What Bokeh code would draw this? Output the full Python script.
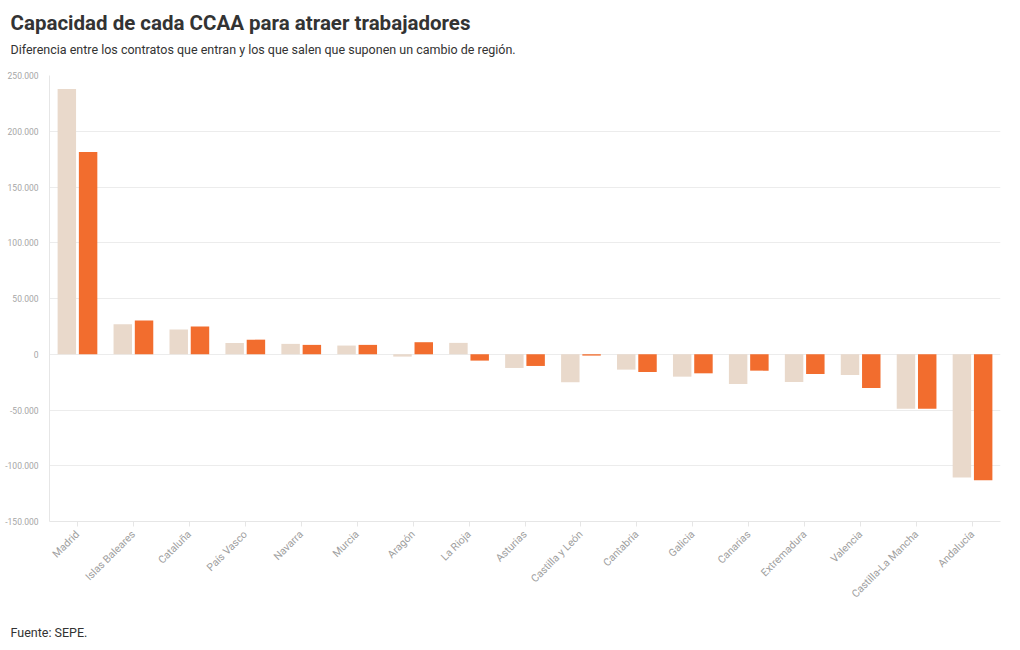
from bokeh.plotting import figure
from bokeh.models import ColumnDataSource, FactorRange, Range1d, FixedTicker, Title
from bokeh.transform import dodge
from bokeh.embed import file_html
from bokeh.resources import INLINE
import math

regions = ["Madrid", "Islas Baleares", "Cataluña", "País Vasco", "Navarra", "Murcia",
           "Aragón", "La Rioja", "Asturias", "Castilla y León", "Cantabria", "Galicia",
           "Canarias", "Extremadura", "Valencia", "Castilla-La Mancha", "Andalucía"]
serie_anterior = [238000, 26900, 22200, 10200, 9300, 7800, -2100, 10200, -12300, -25100,
                  -13800, -20100, -26700, -24900, -18600, -48900, -110600]
serie_actual = [181400, 30300, 24900, 13100, 8400, 8400, 10800, -5700, -10500, -1200,
                -15900, -17100, -14700, -17700, -30300, -48900, -113000]
y_ticks = [-150000, -100000, -50000, 0, 50000, 100000, 150000, 200000, 250000]
y_tick_labels = ["-150.000", "-100.000", "-50.000", "0", "50.000", "100.000",
                 "150.000", "200.000", "250.000"]

title_text = "Capacidad de cada CCAA para atraer trabajadores"
subtitle_text = "Diferencia entre los contratos que entran y los que salen que suponen un cambio de región."
source_text = "Fuente: SEPE."

src = ColumnDataSource(dict(region=regions, a=serie_anterior, b=serie_actual))

FONT = "Roboto"
LEFT = 49

p = figure(width=1020, height=650, x_range=FactorRange(*regions, range_padding=0),
           y_range=Range1d(-150000, 250000), output_backend="svg", toolbar_location=None,
           min_border_left=LEFT, min_border_right=20, min_border_top=75, min_border_bottom=129)
p.outline_line_color = None
p.background_fill_color = "white"
p.title.text = ""

p.vbar(x=dodge("region", -0.19, range=p.x_range), top="a", bottom=0, width=0.33,
       source=src, fill_color="#e9d9cb", line_color=None)
p.vbar(x=dodge("region", 0.19, range=p.x_range), top="b", bottom=0, width=0.33,
       source=src, fill_color="#f26d2e", line_color=None)

# axes
p.xgrid.grid_line_color = None
p.ygrid.grid_line_color = "#ececec"
p.ygrid.ticker = FixedTicker(ticks=y_ticks)
p.yaxis.ticker = FixedTicker(ticks=y_ticks)
p.yaxis.major_label_overrides = {t: l for t, l in zip(y_ticks, y_tick_labels)}
p.yaxis.axis_line_color = "#e6e6e6"
p.yaxis.major_tick_line_color = None
p.yaxis.minor_tick_line_color = None
p.yaxis.major_label_text_font = FONT
p.yaxis.major_label_text_font_size = "8.5px"
p.yaxis.major_label_text_color = "#a6a6a6"
p.yaxis.major_label_standoff = 5

p.xaxis.axis_line_color = "#e6e6e6"
p.xaxis.major_tick_line_color = "#e6e6e6"
p.xaxis.major_tick_out = 5
p.xaxis.major_tick_in = 0
p.xaxis.major_label_orientation = math.pi / 4
p.xaxis.major_label_text_font = FONT
p.xaxis.major_label_text_font_size = "10.5px"
p.xaxis.major_label_text_color = "#a0a0a0"
p.xaxis.major_label_standoff = 6

# header: spacer closest to frame, then subtitle, then main title
p.add_layout(Title(text=" ", text_font_size="12.5px", standoff=3), "above")
p.add_layout(Title(text=subtitle_text, align="left", offset=10 - LEFT, standoff=0,
                   text_font=FONT, text_font_size="12.5px", text_font_style="normal",
                   text_color="#333333"), "above")
p.add_layout(Title(text=title_text, align="left", offset=10 - LEFT, standoff=9,
                   text_font=FONT, text_font_size="20.5px", text_font_style="bold",
                   text_color="#333333"), "above")

# footer: spacer then source line
p.add_layout(Title(text=" ", text_font_size="12px", standoff=1), "below")
p.add_layout(Title(text=source_text, align="left", offset=10 - LEFT, standoff=0,
                   text_font=FONT, text_font_size="12.5px", text_font_style="normal",
                   text_color="#333333", vertical_align="top"), "below")

open("out.html", "w").write(file_html(p, INLINE))
